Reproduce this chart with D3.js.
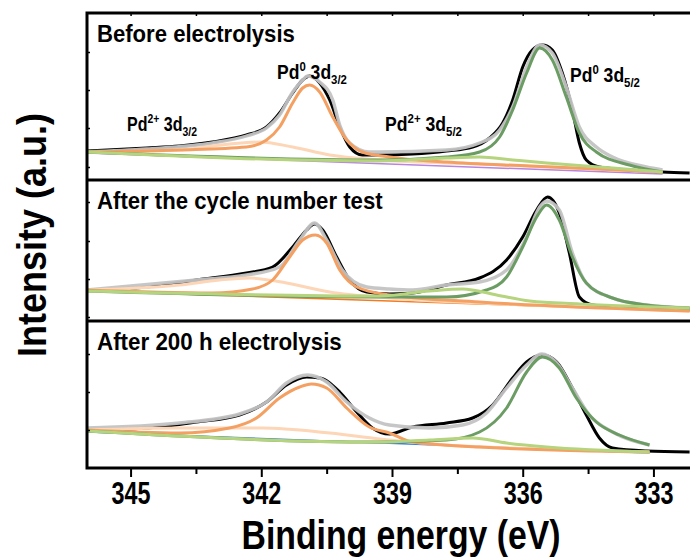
<!DOCTYPE html>
<html>
<head>
<meta charset="utf-8">
<script src="https://cdn.jsdelivr.net/npm/d3@7"></script>
<style>
  body { margin: 0; background: #fff; }
  text { font-family: "Liberation Sans", Arial, sans-serif; font-weight: bold; fill: #000; }
</style>
</head>
<body>
<div id="chart"></div>
<script>
// Binding energy ticks (eV)
const majorTicks = [345, 342, 339, 336, 333];
const minorTicks = [343.5, 340.5, 337.5, 334.5];

// Each series: [binding energy (eV), intensity (a.u.)]
// --- Before electrolysis
const beforeRaw = [[346.0,29],[344.63,32],[343.88,34],[343.12,38],[342.34,45],[341.88,53],[341.58,67],[341.28,87],[341.05,100],[340.89,104],[340.66,97],[340.43,80],[340.2,53],[339.97,33],[339.68,25],[339.29,25],[338.53,26],[337.75,29],[337.15,33],[336.76,42],[336.46,57],[336.23,80],[336.0,113],[335.78,130],[335.55,135],[335.32,130],[335.09,107],[334.86,70],[334.7,37],[334.54,20],[334.24,13],[333.55,10],[332.79,8],[332.17,7]];
const beforeFit = [[346.0,28],[344.63,31],[343.12,37],[342.34,44],[341.88,52],[341.58,65],[341.28,88],[341.05,100],[340.94,104],[340.66,98],[340.36,80],[340.2,55],[339.97,37],[339.52,28],[339.29,28],[337.75,30],[336.99,37],[336.53,50],[336.23,73],[335.91,113],[335.61,135],[335.32,127],[335.0,93],[334.7,53],[334.31,33],[333.94,23],[333.16,13],[332.79,10]];
const beforePd0_32 = [[346.0,28],[343.88,30],[342.34,33],[341.88,40],[341.58,53],[341.28,77],[341.05,92],[340.89,95],[340.66,88],[340.36,63],[340.04,40],[339.68,28],[339.06,23],[337.75,18],[335.84,14],[332.79,8]];
const beforePd2_32 = [[346.0,28],[343.88,30],[342.73,36],[342.04,38],[341.28,33],[340.43,25],[339.29,20],[336.99,16],[332.79,8]];
const beforePd0_52 = [[346.0,28],[339.29,20],[337.75,23],[336.99,28],[336.53,43],[336.23,70],[335.91,107],[335.61,132],[335.32,120],[335.0,83],[334.7,47],[334.31,28],[333.55,15],[332.79,8]];
const beforePd2_52 = [[346.0,28],[339.29,19],[337.75,22],[336.99,23],[336.23,20],[335.45,17],[333.94,12],[332.79,8]];
const beforeBg = [[346.0,27],[332.79,6]];

// --- After the cycle number test
const cycleRaw = [[346.0,31],[344.63,34],[343.49,41],[342.34,48],[341.74,54],[341.28,74],[340.96,91],[340.78,97],[340.59,91],[340.27,64],[339.97,41],[339.58,29],[339.06,27],[338.53,28],[337.75,36],[336.99,43],[336.37,61],[336.0,84],[335.68,111],[335.43,124],[335.16,108],[334.93,68],[334.7,24],[334.4,16],[333.55,13],[332.17,11]];
const cycleFit = [[346.0,31],[343.49,41],[342.34,46],[341.58,54],[341.12,81],[340.78,98],[340.5,81],[340.14,51],[339.58,34],[339.06,32],[338.53,31],[337.75,36],[336.99,39],[336.37,51],[335.91,84],[335.61,114],[335.45,120],[335.16,111],[334.86,68],[334.54,38],[333.94,23],[333.16,16],[332.17,13]];
const cyclePd0_32 = [[346.0,31],[343.12,28],[342.2,32],[341.74,41],[341.35,64],[341.05,81],[340.76,86],[340.5,78],[340.2,51],[339.81,34],[339.06,26],[336.99,19],[332.17,10]];
const cyclePd2_32 = [[346.0,31],[343.88,36],[342.96,41],[342.27,43],[341.42,38],[340.43,29],[339.06,23],[336.99,18],[332.17,10]];
const cyclePd0_52 = [[346.0,30],[339.29,24],[337.75,24],[336.83,31],[336.37,44],[336.0,74],[335.68,104],[335.45,116],[335.16,101],[334.86,64],[334.54,38],[333.94,23],[333.16,16],[332.17,13]];
const cyclePd2_52 = [[346.0,30],[339.29,25],[338.14,30],[337.38,32],[336.6,26],[335.84,20],[334.7,17],[332.17,13]];
const cycleBg = [[346.0,30],[332.17,10]];

// --- After 200 h electrolysis
const h200Raw = [[346.0,38],[344.63,40],[343.49,46],[342.5,53],[341.88,66],[341.42,83],[340.96,91],[340.66,90],[340.2,76],[339.81,56],[339.45,40],[339.06,34],[338.53,41],[337.75,45],[337.15,50],[336.69,63],[336.23,90],[335.91,106],[335.55,113],[335.22,106],[334.86,80],[334.54,53],[334.24,30],[333.94,20],[333.16,17],[332.17,16]];
const h200Fit = [[346.0,40],[343.88,45],[342.5,54],[341.88,66],[341.42,85],[340.94,93],[340.5,86],[340.04,66],[339.52,50],[339.06,43],[338.14,40],[337.38,43],[336.83,55],[336.37,80],[335.91,103],[335.57,114],[335.22,105],[334.86,80],[334.47,53],[333.94,36],[333.09,23]];
const h200Pd0_32 = [[346.0,38],[343.88,35],[342.73,40],[342.11,50],[341.58,70],[341.12,81],[340.85,84],[340.5,80],[340.04,60],[339.52,41],[339.06,35],[338.53,26],[336.99,21],[333.09,16]];
const h200Pd2_32 = [[346.0,38],[343.88,40],[341.97,40],[340.43,35],[339.06,28],[337.75,23],[334.7,18],[333.09,16]];
const h200Pd0_52 = [[346.0,37],[339.29,26],[337.75,28],[336.99,36],[336.37,60],[335.91,96],[335.55,111],[335.16,100],[334.77,70],[334.31,46],[333.78,33],[333.09,23]];
const h200Pd2_52 = [[346.0,37],[339.29,26],[338.14,28],[337.15,30],[336.37,25],[335.45,21],[333.09,16]];
const h200Bg = [[346.0,36],[333.09,15]];

const panelTitles = ["Before electrolysis", "After the cycle number test", "After 200 h electrolysis"];

const width = 690, height = 559;
const frame = { left: 87, right: 697, top: 13, bottom: 468 };
const panelEdges = [13, 180, 321, 468];

const svg = d3.select("#chart").append("svg")
    .attr("width", width)
    .attr("height", height);

const x = d3.scaleLinear().domain([346, 332]).range([frame.left, frame.right]);

const colors = {
    raw: "#000000", fit: "#c3c3c3", pd0_32: "#f4a062", pd2_32: "#fcd6b7",
    pd0_52: "#6b9c63", pd2_52: "#b5d47d"
};

const panels = [
    { raw: beforeRaw, fit: beforeFit, pd0_32: beforePd0_32, pd2_32: beforePd2_32, pd0_52: beforePd0_52, pd2_52: beforePd2_52, bg: beforeBg, bgColor: "#b784e0", ticks: [13, 52, 90, 128] },
    { raw: cycleRaw, fit: cycleFit, pd0_32: cyclePd0_32, pd2_32: cyclePd2_32, pd0_52: cyclePd0_52, pd2_52: cyclePd2_52, bg: cycleBg, bgColor: "#f47a1f", ticks: [4, 42, 80, 119] },
    { raw: h200Raw, fit: h200Fit, pd0_32: h200Pd0_32, pd2_32: h200Pd2_32, pd0_52: h200Pd0_52, pd2_52: h200Pd2_52, bg: h200Bg, bgColor: "#3a7de0", ticks: [38, 76, 114] }
];

// squeeze text horizontally to the width seen in the figure
function squeeze(sel, w) {
    const bw = sel.node().getBBox().width;
    sel.attr("transform", (sel.attr("transform") || "") + ` scale(${w / bw},1)`);
}

panels.forEach((p, i) => {
    const top = panelEdges[i], bottom = panelEdges[i + 1];
    const y = d3.scaleLinear().domain([0, bottom - top]).range([bottom, top]);
    const line = d3.line().x(d => x(d[0])).y(d => y(d[1])).curve(d3.curveMonotoneX);

    const g = svg.append("g");
    g.append("path").datum(p.bg).attr("d", line)
        .attr("fill", "none").attr("stroke", p.bgColor).attr("stroke-width", 1.5);
    g.append("path").datum(p.raw).attr("d", line)
        .attr("fill", "none").attr("stroke", colors.raw).attr("stroke-width", 3);
    g.append("path").datum(p.fit).attr("d", line)
        .attr("fill", "none").attr("stroke", colors.fit).attr("stroke-width", 3.4).attr("opacity", 0.95);
    ["pd2_32", "pd0_32", "pd0_52", "pd2_52"].forEach(k => {
        g.append("path").datum(p[k]).attr("d", line)
            .attr("fill", "none").attr("stroke", colors[k]).attr("stroke-width", 3);
    });

    // small inward ticks on the left side
    svg.append("g")
        .attr("transform", `translate(${frame.left},0)`)
        .call(d3.axisRight(y).tickValues(p.ticks).tickSize(3).tickFormat(""))
        .call(a => a.select(".domain").remove())
        .selectAll("line").attr("stroke-width", 1.5);

    const t = svg.append("text")
        .attr("transform", `translate(97,${top + 29})`)
        .style("font-size", "23px")
        .text(panelTitles[i]);
    squeeze(t, [198, 286, 245][i]);
});

// frame and separators
svg.append("rect")
    .attr("x", frame.left).attr("y", frame.top)
    .attr("width", frame.right - frame.left).attr("height", frame.bottom - frame.top)
    .attr("fill", "none").attr("stroke", "#000").attr("stroke-width", 3);
[180, 321].forEach(yy => {
    svg.append("line")
        .attr("x1", frame.left).attr("x2", frame.right)
        .attr("y1", yy).attr("y2", yy)
        .attr("stroke", "#000").attr("stroke-width", 3);
});

// bottom axis
const xAxis = svg.append("g")
    .attr("transform", `translate(0,${frame.bottom})`)
    .call(d3.axisBottom(x).tickValues(majorTicks).tickSize(9).tickPadding(4).tickFormat(d3.format("d")));
xAxis.select(".domain").remove();
xAxis.selectAll("line").attr("stroke-width", 2);
xAxis.selectAll("text")
    .style("font-size", "32px")
    .attr("font-family", null)
    .each(function () {
        const bw = this.getBBox().width;
        d3.select(this).attr("transform", `scale(${39 / bw},1)`);
    });
svg.append("g")
    .attr("transform", `translate(0,${frame.bottom})`)
    .call(d3.axisBottom(x).tickValues(minorTicks).tickSize(6).tickFormat(""))
    .call(a => a.select(".domain").remove())
    .selectAll("line").attr("stroke-width", 2);

// top axis, inward ticks
svg.append("g")
    .attr("transform", `translate(0,${frame.top})`)
    .call(d3.axisBottom(x).tickValues(majorTicks.concat(minorTicks)).tickSize(3).tickFormat(""))
    .call(a => a.select(".domain").remove())
    .selectAll("line").attr("stroke-width", 1.5);

// peak labels
function peakLabel(px, py, sup, sub, w) {
    const t = svg.append("text").attr("transform", `translate(${px},${py})`).style("font-size", "20px");
    t.append("tspan").text("Pd");
    t.append("tspan").attr("dy", -8).style("font-size", "13px").text(sup);
    t.append("tspan").attr("dy", 8).text(" 3d");
    t.append("tspan").attr("dy", 5).style("font-size", "13px").text(sub);
    squeeze(t, w);
}
peakLabel(277, 79, "0", "3/2", 70);
peakLabel(127, 131, "2+", "3/2", 70);
peakLabel(385, 131, "2+", "5/2", 77);
peakLabel(570, 82, "0", "5/2", 70);

// axis titles
const xt = svg.append("text")
    .attr("transform", "translate(401,549)")
    .attr("text-anchor", "middle")
    .style("font-size", "41px")
    .text("Binding energy (eV)");
squeeze(xt, 319);

const yt = svg.append("text")
    .attr("transform", "translate(46,235) rotate(-90)")
    .attr("text-anchor", "middle")
    .style("font-size", "41px")
    .text("Intensity (a.u.)");
squeeze(yt, 244);
</script>
</body>
</html>
